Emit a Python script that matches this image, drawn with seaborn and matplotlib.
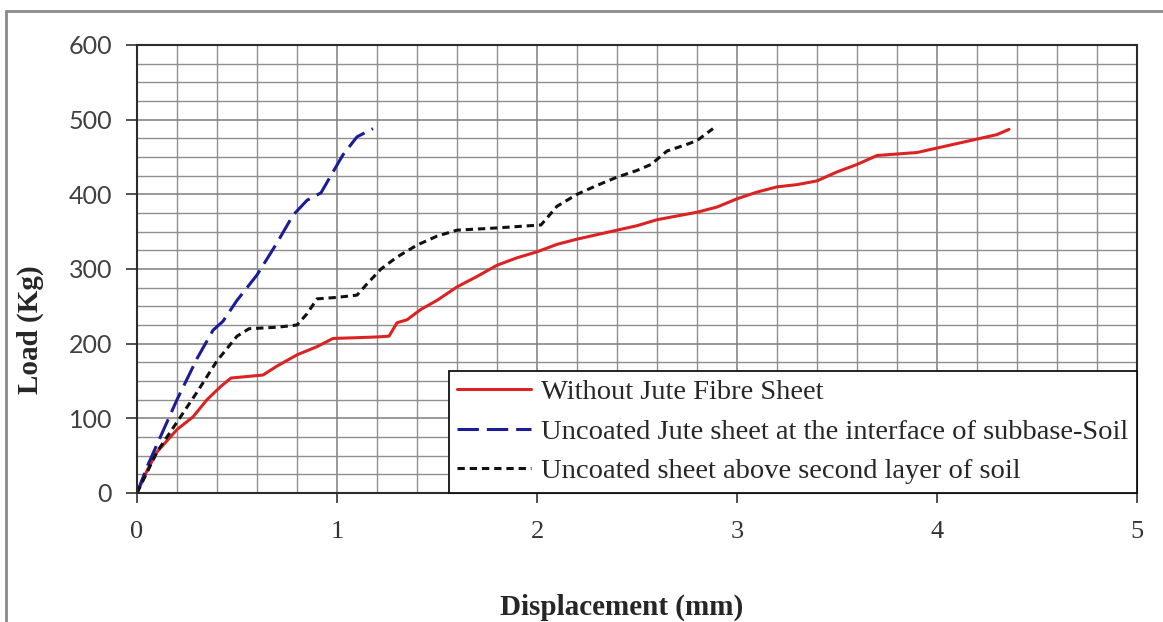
import numpy as np
import pandas as pd
import seaborn as sns
import matplotlib
matplotlib.use("Agg")
from matplotlib import pyplot as plt
from matplotlib.patches import Rectangle

# load-displacement readings taken off the reference plot
label_none = "Without Jute Fibre Sheet"
label_interface = "Uncoated Jute sheet at the interface of subbase-Soil"
label_second = "Uncoated sheet above second layer of soil"

disp_none = [0, 0.05, 0.1, 0.2, 0.28, 0.35, 0.42, 0.47, 0.55, 0.63, 0.7, 0.8, 0.9, 0.98,
             1.1, 1.2, 1.26, 1.3, 1.35, 1.42, 1.5, 1.6, 1.7, 1.8, 1.9, 2.0, 2.1, 2.2, 2.3,
             2.4, 2.5, 2.6, 2.7, 2.8, 2.9, 3.0, 3.1, 3.2, 3.3, 3.4, 3.5, 3.6, 3.7, 3.8, 3.9,
             4.0, 4.1, 4.2, 4.3, 4.36]
load_none = [0, 30, 55, 85, 102, 125, 143, 154, 156, 158, 170, 185, 196, 207,
             208, 209, 210, 228, 232, 246, 258, 276, 290, 305, 315, 323, 333, 340, 346,
             352, 358, 366, 371, 376, 383, 394, 403, 410, 413, 418, 430, 440, 452, 454, 456,
             462, 468, 474, 480, 487]

disp_interface = [0, 0.05, 0.1, 0.15, 0.2, 0.3, 0.38, 0.43, 0.5, 0.6, 0.7, 0.78, 0.85,
                  0.92, 0.98, 1.03, 1.1, 1.18]
load_interface = [0, 35, 65, 95, 125, 180, 218, 230, 258, 292, 335, 372, 392,
                  402, 430, 453, 477, 488]

disp_second = [0, 0.1, 0.2, 0.3, 0.4, 0.5, 0.56, 0.7, 0.8, 0.85, 0.9, 1.0, 1.1, 1.15,
               1.22, 1.3, 1.4, 1.5, 1.6, 1.8, 2.02, 2.1, 2.2, 2.3, 2.4, 2.5, 2.57, 2.65,
               2.75, 2.8, 2.88]
load_second = [0, 55, 95, 135, 177, 210, 220, 222, 225, 240, 260, 262, 265, 280,
               300, 316, 332, 344, 352, 355, 359, 384, 400, 412, 423, 432, 440, 458,
               467, 472, 488]

df = pd.concat([
    pd.DataFrame({"disp": disp_none, "load": load_none, "case": label_none}),
    pd.DataFrame({"disp": disp_interface, "load": load_interface, "case": label_interface}),
    pd.DataFrame({"disp": disp_second, "load": load_second, "case": label_second}),
])

sns.set_style("ticks")
plt.rcParams["font.family"] = ["Liberation Serif", "DejaVu Serif"]

fig = plt.figure(figsize=(11.63, 6.22), dpi=100)
ax = fig.add_axes([137 / 1163, 129 / 622, 1000 / 1163, 448 / 622])

palette = {label_none: "#dc2323", label_interface: "#1c1c96", label_second: "#111111"}
dashes = {label_none: "", label_interface: (7, 2.6), label_second: (2.4, 1.6)}
sns.lineplot(data=df, x="disp", y="load", hue="case", style="case", palette=palette,
             dashes=dashes, estimator=None, sort=False, linewidth=2.2, ax=ax)

ax.set_xlim(0, 5)
ax.set_ylim(0, 600)
ax.set_xticks(np.arange(0, 6, 1))
ax.set_xticks(np.arange(0, 5.01, 0.2), minor=True)
ax.set_yticks(np.arange(0, 700, 100))
ax.set_yticks(np.arange(0, 601, 25), minor=True)
ax.grid(which="major", color="#7d7d7d", linewidth=1.1)
ax.grid(which="minor", color="#8f8f8f", linewidth=1.0)
ax.set_axisbelow(True)
ax.tick_params(which="minor", length=0)
ax.tick_params(axis="x", which="major", length=7, width=1.2, color="#333333",
               pad=13, labelsize=19, labelcolor="#333333")
ax.tick_params(axis="y", which="major", length=8, width=1.2, color="#333333",
               pad=10, labelsize=18, labelcolor="#404040")
for lab in ax.get_yticklabels():
    lab.set_fontfamily("Lato")
for s in ax.spines.values():
    s.set_color("#2b2b2b")
    s.set_linewidth(1.5)

ax.set_xlabel("Displacement (mm)", fontsize=21, fontweight="bold")
ax.set_ylabel("Load (Kg)", fontsize=21, fontweight="bold")
ax.xaxis.set_label_coords(485 / 1000, -101 / 448)
ax.yaxis.set_label_coords(-93 / 1000, 163 / 448)

leg = ax.legend(loc="lower right", bbox_to_anchor=(1, 0), borderaxespad=0,
                fontsize=20.5, frameon=True, fancybox=False, framealpha=1,
                edgecolor="#111111", handlelength=2.6, handletextpad=0.35,
                labelspacing=0.48, borderpad=0.3)
leg.get_frame().set_linewidth(1.3)
for h in leg.get_lines():
    h.set_linewidth(2.2)

fig.add_artist(Rectangle((6 / 1163, -0.1), 1.2, 1.1 - 12 / 622 + 0.001,
                         transform=fig.transFigure, fill=False,
                         edgecolor="#8a8a8a", linewidth=2))

fig.savefig("out.png", dpi=100, facecolor="white")
